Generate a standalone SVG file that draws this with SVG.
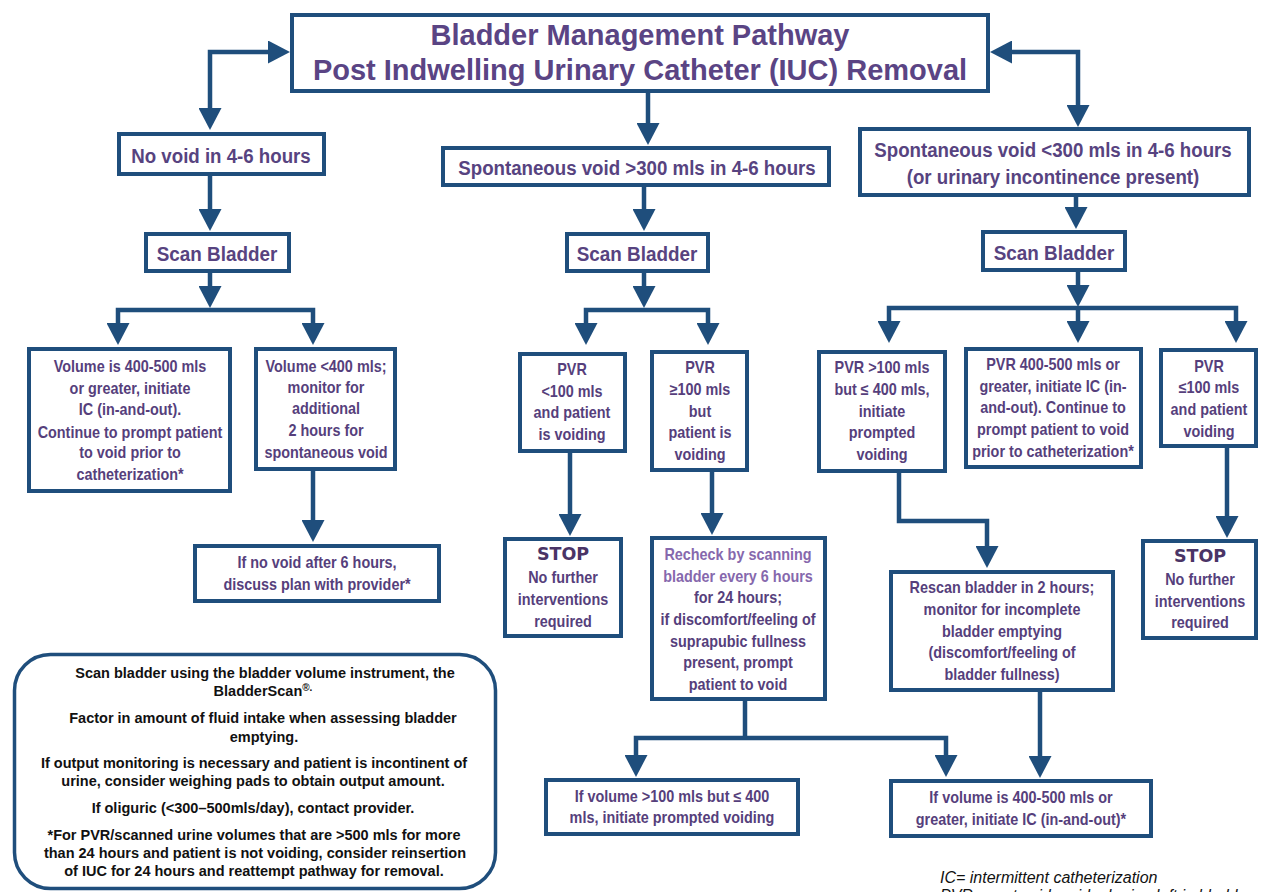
<svg xmlns="http://www.w3.org/2000/svg" width="1262" height="892" viewBox="0 0 1262 892">
<style>
.box{fill:#fff;stroke:#1f4e7c;stroke-width:4}
.leg{fill:#fff;stroke:#1f4e7c;stroke-width:3.5}
.c{fill:none;stroke:#1f4e7c;stroke-width:4.5;stroke-linejoin:miter}
.ti{font-family:"Liberation Sans",Arial,sans-serif;font-weight:bold;font-size:29px;fill:#5a4484;text-anchor:middle}
.h{font-family:"Liberation Sans",Arial,sans-serif;font-weight:bold;font-size:21px;fill:#574380;text-anchor:middle}
.t{font-family:"Liberation Sans",Arial,sans-serif;font-weight:bold;font-size:16px;fill:#563f7c;text-anchor:middle}
.lt{fill:#8668ad}
.stop{font-family:"DejaVu Sans",Verdana,sans-serif;font-weight:bold;font-size:17.5px;fill:#4a3466;text-anchor:middle}
.lg{font-family:"Liberation Sans",Arial,sans-serif;font-weight:bold;font-size:14.5px;fill:#111;text-anchor:middle}
.it{font-family:"Liberation Sans",Arial,sans-serif;font-style:italic;font-size:16px;fill:#111}
</style>
<defs>
<marker id="ah" markerUnits="userSpaceOnUse" markerWidth="22" markerHeight="23" viewBox="0 0 22 23" refX="11" refY="11.5" orient="auto-start-reverse"><path d="M0,0 L22,11.5 L0,23 z" fill="#1f4e7c"/></marker>
</defs>
<rect width="1262" height="892" fill="#fff"/>

<g id="connectors">
<path class="c" d="M279,52 L210,52 L210,119" marker-start="url(#ah)" marker-end="url(#ah)"/>
<path class="c" d="M1001,52 L1078,52 L1078,116" marker-start="url(#ah)" marker-end="url(#ah)"/>
<path class="c" d="M648,93 L648,134" marker-end="url(#ah)"/>
<path class="c" d="M210,176 L210,220" marker-end="url(#ah)"/>
<path class="c" d="M210,273 L210,297" marker-end="url(#ah)"/>
<path class="c" d="M118,334 L118,310 L313,310 L313,334" marker-start="url(#ah)" marker-end="url(#ah)"/>
<path class="c" d="M313,471 L313,531" marker-end="url(#ah)"/>
<path class="c" d="M644,187 L644,220" marker-end="url(#ah)"/>
<path class="c" d="M644,273 L644,297" marker-end="url(#ah)"/>
<path class="c" d="M586,334 L586,310 L708,310 L708,334" marker-start="url(#ah)" marker-end="url(#ah)"/>
<path class="c" d="M570,453 L570,525" marker-end="url(#ah)"/>
<path class="c" d="M712,472 L712,524" marker-end="url(#ah)"/>
<path class="c" d="M745,701 L745,738"/>
<path class="c" d="M636,766 L636,738 L946,738 L946,766" marker-start="url(#ah)" marker-end="url(#ah)"/>
<path class="c" d="M1076,197 L1076,218" marker-end="url(#ah)"/>
<path class="c" d="M1078,272 L1078,296" marker-end="url(#ah)"/>
<path class="c" d="M889,332 L889,308 L1236,308 L1236,332" marker-start="url(#ah)" marker-end="url(#ah)"/>
<path class="c" d="M1078,308 L1078,332" marker-end="url(#ah)"/>
<path class="c" d="M899,473 L899,521 L987,521 L987,557" marker-end="url(#ah)"/>
<path class="c" d="M1227,448 L1227,527" marker-end="url(#ah)"/>
<path class="c" d="M1040,692 L1040,767" marker-end="url(#ah)"/>
</g>

<g id="title">
<rect class="box" x="292" y="15" width="696" height="76"/>
<text class="ti" x="640" y="45">Bladder Management Pathway</text>
<text class="ti" x="640" y="80">Post Indwelling Urinary Catheter (IUC) Removal</text>
</g>

<g id="no-void">
<rect class="box" x="119" y="134" width="205" height="40"/>
<text class="h" transform="translate(221 0) scale(0.89 1)" x="0" y="163">No void in 4-6 hours</text>
</g>

<g id="scan-left">
<rect class="box" x="146" y="234" width="143" height="37"/>
<text class="h" transform="translate(217 0) scale(0.9 1)" x="0" y="261">Scan Bladder</text>
</g>

<g id="vol-400-500">
<rect class="box" x="29" y="349" width="201" height="142"/>
<g transform="translate(130 0) scale(0.9 1)">
<text class="t" x="0" y="372">Volume is 400-500 mls</text>
<text class="t" x="0" y="394">or greater, initiate</text>
<text class="t" x="0" y="415">IC (in-and-out).</text>
<text class="t" x="0" y="438">Continue to prompt patient</text>
<text class="t" x="0" y="458">to void prior to</text>
<text class="t" x="0" y="480">catheterization*</text>
</g>
</g>

<g id="vol-lt-400">
<rect class="box" x="256" y="349" width="139" height="120"/>
<g transform="translate(326 0) scale(0.9 1)">
<text class="t" x="0" y="372">Volume &lt;400 mls;</text>
<text class="t" x="0" y="393">monitor for</text>
<text class="t" x="0" y="414">additional</text>
<text class="t" x="0" y="436">2 hours for</text>
<text class="t" x="0" y="458">spontaneous void</text>
</g>
</g>

<g id="no-void-6h">
<rect class="box" x="195" y="546" width="244" height="55"/>
<g transform="translate(317 0) scale(0.9 1)">
<text class="t" x="0" y="568">If no void after 6 hours,</text>
<text class="t" x="0" y="590">discuss plan with provider*</text>
</g>
</g>

<g id="spont-gt-300">
<rect class="box" x="443" y="148" width="386" height="37"/>
<text class="h" transform="translate(637 0) scale(0.89 1)" x="0" y="175">Spontaneous void &gt;300 mls in 4-6 hours</text>
</g>

<g id="scan-mid">
<rect class="box" x="567" y="234" width="141" height="37"/>
<text class="h" transform="translate(637 0) scale(0.9 1)" x="0" y="261">Scan Bladder</text>
</g>

<g id="pvr-lt-100">
<rect class="box" x="520" y="354" width="105" height="97"/>
<g transform="translate(572 0) scale(0.9 1)">
<text class="t" x="0" y="375">PVR</text>
<text class="t" x="0" y="397">&lt;100 mls</text>
<text class="t" x="0" y="418">and patient</text>
<text class="t" x="0" y="440">is voiding</text>
</g>
</g>

<g id="pvr-ge-100">
<rect class="box" x="652" y="352" width="95" height="118"/>
<g transform="translate(700 0) scale(0.9 1)">
<text class="t" x="0" y="373">PVR</text>
<text class="t" x="0" y="395">≥100 mls</text>
<text class="t" x="0" y="417">but</text>
<text class="t" x="0" y="438">patient is</text>
<text class="t" x="0" y="460">voiding</text>
</g>
</g>

<g id="stop-mid">
<rect class="box" x="505" y="539" width="116" height="97"/>
<text class="stop" x="563" y="560">STOP</text>
<g transform="translate(563 0) scale(0.9 1)">
<text class="t" x="0" y="583">No further</text>
<text class="t" x="0" y="605">interventions</text>
<text class="t" x="0" y="627">required</text>
</g>
</g>

<g id="recheck">
<rect class="box" x="652" y="538" width="173" height="161"/>
<g transform="translate(738 0) scale(0.9 1)">
<text class="t lt" x="0" y="560">Recheck by scanning</text>
<text class="t lt" x="0" y="582">bladder every 6 hours</text>
<text class="t" x="0" y="603">for 24 hours;</text>
<text class="t" x="0" y="625">if discomfort/feeling of</text>
<text class="t" x="0" y="647">suprapubic fullness</text>
<text class="t" x="0" y="668">present, prompt</text>
<text class="t" x="0" y="690">patient to void</text>
</g>
</g>

<g id="bottom-prompted">
<rect class="box" x="546" y="780" width="252" height="54"/>
<g transform="translate(672 0) scale(0.9 1)">
<text class="t" x="0" y="802">If volume &gt;100 mls but ≤ 400</text>
<text class="t" x="0" y="823">mls, initiate prompted voiding</text>
</g>
</g>

<g id="bottom-ic">
<rect class="box" x="891" y="781" width="260" height="55"/>
<g transform="translate(1021 0) scale(0.9 1)">
<text class="t" x="0" y="803">If volume is 400-500 mls or</text>
<text class="t" x="0" y="825">greater, initiate IC (in-and-out)*</text>
</g>
</g>

<g id="spont-lt-300">
<rect class="box" x="860" y="129" width="389" height="66"/>
<g transform="translate(1053 0) scale(0.89 1)">
<text class="h" x="0" y="157">Spontaneous void &lt;300 mls in 4-6 hours</text>
<text class="h" x="0" y="184">(or urinary incontinence present)</text>
</g>
</g>

<g id="scan-right">
<rect class="box" x="983" y="232" width="142" height="38"/>
<text class="h" transform="translate(1054 0) scale(0.9 1)" x="0" y="260">Scan Bladder</text>
</g>

<g id="pvr-100-400">
<rect class="box" x="819" y="352" width="126" height="119"/>
<g transform="translate(882 0) scale(0.9 1)">
<text class="t" x="0" y="373">PVR &gt;100 mls</text>
<text class="t" x="0" y="395">but ≤ 400 mls,</text>
<text class="t" x="0" y="417">initiate</text>
<text class="t" x="0" y="438">prompted</text>
<text class="t" x="0" y="460">voiding</text>
</g>
</g>

<g id="pvr-400-500">
<rect class="box" x="966" y="349" width="175" height="118"/>
<g transform="translate(1053 0) scale(0.9 1)">
<text class="t" x="0" y="370">PVR 400-500 mls or</text>
<text class="t" x="0" y="392">greater, initiate IC (in-</text>
<text class="t" x="0" y="413">and-out). Continue to</text>
<text class="t" x="0" y="435">prompt patient to void</text>
<text class="t" x="0" y="457">prior to catheterization*</text>
</g>
</g>

<g id="pvr-le-100">
<rect class="box" x="1161" y="350" width="95" height="96"/>
<g transform="translate(1209 0) scale(0.9 1)">
<text class="t" x="0" y="372">PVR</text>
<text class="t" x="0" y="393">≤100 mls</text>
<text class="t" x="0" y="415">and patient</text>
<text class="t" x="0" y="437">voiding</text>
</g>
</g>

<g id="stop-right">
<rect class="box" x="1143" y="541" width="113" height="97"/>
<text class="stop" x="1200" y="562">STOP</text>
<g transform="translate(1200 0) scale(0.9 1)">
<text class="t" x="0" y="585">No further</text>
<text class="t" x="0" y="607">interventions</text>
<text class="t" x="0" y="628">required</text>
</g>
</g>

<g id="rescan">
<rect class="box" x="891" y="572" width="222" height="118"/>
<g transform="translate(1002 0) scale(0.9 1)">
<text class="t" x="0" y="593">Rescan bladder in 2 hours;</text>
<text class="t" x="0" y="615">monitor for incomplete</text>
<text class="t" x="0" y="637">bladder emptying</text>
<text class="t" x="0" y="658">(discomfort/feeling of</text>
<text class="t" x="0" y="680">bladder fullness)</text>
</g>
</g>

<g id="legend">
<rect class="leg" x="14.5" y="654.5" width="481" height="234" rx="36" ry="36"/>
<text class="lg" x="265" y="678">Scan bladder using the bladder volume instrument, the</text>
<text class="lg" x="263" y="696">BladderScan<tspan font-size="10" baseline-shift="super">®.</tspan></text>
<text class="lg" x="263" y="723">Factor in amount of fluid intake when assessing bladder</text>
<text class="lg" x="264" y="742">emptying.</text>
<text class="lg" x="254" y="768">If output monitoring is necessary and patient is incontinent of</text>
<text class="lg" x="253" y="786">urine, consider weighing pads to obtain output amount.</text>
<text class="lg" x="253" y="813">If oliguric (&lt;300–500mls/day), contact provider.</text>
<text class="lg" x="254" y="840">*For PVR/scanned urine volumes that are &gt;500 mls for more</text>
<text class="lg" x="255" y="858">than 24 hours and patient is not voiding, consider reinsertion</text>
<text class="lg" x="254" y="876">of IUC for 24 hours and reattempt pathway for removal.</text>
</g>

<g id="abbrev">
<text class="it" x="940" y="883">IC= intermittent catheterization</text>
<text class="it" x="940" y="901">PVR= post void residual urine left in bladder</text>
</g>
</svg>
